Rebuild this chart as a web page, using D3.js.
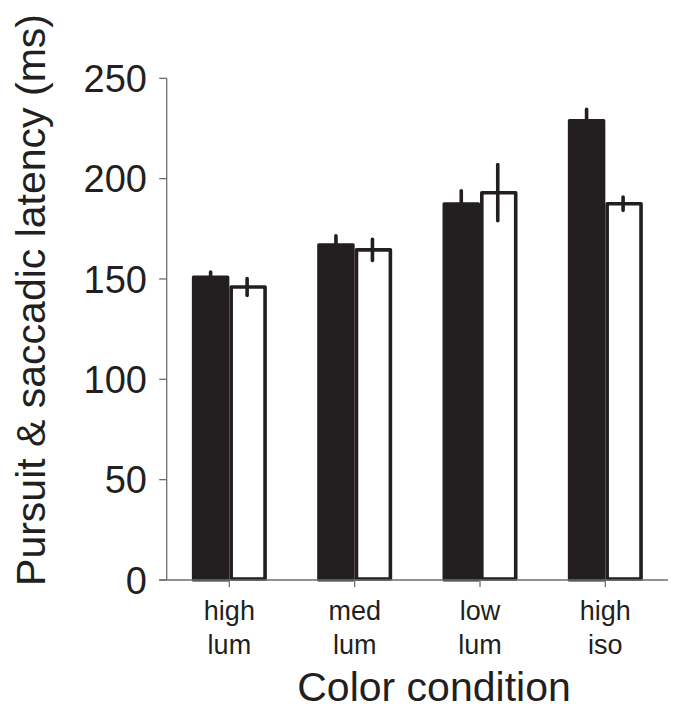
<!DOCTYPE html>
<html>
<head>
<meta charset="utf-8">
<script src="https://cdn.jsdelivr.net/npm/d3@7"></script>
<style>
  body { margin: 0; background: #fff; }
  text { font-family: "Liberation Sans", Arial, sans-serif; fill: #231f20; }
</style>
</head>
<body>
<div id="chart"></div>
<script>
// data
var categories = ["high lum", "med lum", "low lum", "high iso"];
var catLines   = [["high", "lum"], ["med", "lum"], ["low", "lum"], ["high", "iso"]];
var pursuit    = [151, 167, 187.5, 229];
var pursuitErr = [2.5, 4.5, 6.5, 5.5];
var saccade    = [146, 164.5, 193, 187.5];
var saccadeErr = [4.2, 5.3, 14, 3.3];
var yTicks     = [0, 50, 100, 150, 200, 250];

var width = 677, height = 709;
var ink = "#231f20", axisCol = "#6d6e71";
var x0 = 166.7, x1 = 668, yBot = 580, yTop = 78.3;
var sw = 3.6;

var svg = d3.select("#chart").append("svg")
    .attr("width", width).attr("height", height);

var x = d3.scalePoint().domain(categories).range([x0, x1]).padding(0.5);
var sub = d3.scaleBand().domain(["pursuit", "saccade"]).range([-37.5, 37.5]);
var y = d3.scaleLinear().domain([0, 250]).range([yBot, yTop]);

var rows = categories.map(function(c, i) {
    return { cat: c, lines: catLines[i],
             p: pursuit[i], pe: pursuitErr[i], s: saccade[i], se: saccadeErr[i] };
});

// axes
svg.append("line").attr("x1", x0).attr("x2", x0).attr("y1", y(250)).attr("y2", y(0))
    .attr("stroke", axisCol).attr("stroke-width", 1.3);

var yt = svg.append("g").selectAll("g").data(yTicks).enter().append("g")
    .attr("transform", function(d) { return "translate(0," + y(d) + ")"; });
yt.append("line").attr("x1", x0 - 7.5).attr("x2", x0)
    .attr("stroke", axisCol).attr("stroke-width", 1.3);
yt.append("text").attr("x", 147).attr("dy", "0.36em")
    .attr("text-anchor", "end").attr("font-size", 38)
    .text(function(d) { return d; });

var g = svg.append("g").selectAll("g").data(rows).enter().append("g")
    .attr("transform", function(d) { return "translate(" + x(d.cat) + ",0)"; });

// black bars
g.append("rect")
    .attr("x", sub("pursuit") + 1.5).attr("width", sub.bandwidth() - 3)
    .attr("y", function(d) { return y(d.p); })
    .attr("height", function(d) { return y(0) - y(d.p); })
    .attr("fill", ink).attr("stroke", ink).attr("stroke-width", 3)
    .attr("stroke-linejoin", "round");
g.append("line")
    .attr("x1", sub("pursuit") + sub.bandwidth() / 2).attr("x2", sub("pursuit") + sub.bandwidth() / 2)
    .attr("y1", function(d) { return y(d.p - d.pe); })
    .attr("y2", function(d) { return y(d.p + d.pe); })
    .attr("stroke", ink).attr("stroke-width", sw).attr("stroke-linecap", "round");

// white bars
g.append("rect")
    .attr("x", sub("saccade") + sw / 2).attr("width", sub.bandwidth() - sw)
    .attr("y", function(d) { return y(d.s); })
    .attr("height", function(d) { return y(0) - 1 - y(d.s); })
    .attr("fill", "#fff").attr("stroke", ink).attr("stroke-width", sw)
    .attr("stroke-linejoin", "round");
g.append("line")
    .attr("x1", sub("saccade") + sub.bandwidth() / 2 - 1).attr("x2", sub("saccade") + sub.bandwidth() / 2 - 1)
    .attr("y1", function(d) { return y(d.s - d.se); })
    .attr("y2", function(d) { return y(d.s + d.se); })
    .attr("stroke", ink).attr("stroke-width", sw).attr("stroke-linecap", "round");

// x axis on top of bars
svg.append("line").attr("x1", x0 - 7.5).attr("x2", x1).attr("y1", yBot).attr("y2", yBot)
    .attr("stroke", axisCol).attr("stroke-width", 1.3);
g.append("line").attr("y1", yBot).attr("y2", yBot + 7)
    .attr("stroke", axisCol).attr("stroke-width", 1.3);

var lab = g.append("text").attr("text-anchor", "middle").attr("font-size", 27);
lab.selectAll("tspan").data(function(d) { return d.lines; }).enter().append("tspan")
    .attr("x", 0).attr("y", function(d, i) { return 620 + i * 34; })
    .text(function(d) { return d; });

// axis titles
svg.append("text").attr("x", 434).attr("y", 701)
    .attr("text-anchor", "middle").attr("font-size", 41)
    .text("Color condition");
svg.append("text").attr("transform", "translate(45,300) rotate(-90)")
    .attr("text-anchor", "middle").attr("font-size", 41)
    .text("Pursuit & saccadic latency (ms)");
</script>
</body>
</html>
